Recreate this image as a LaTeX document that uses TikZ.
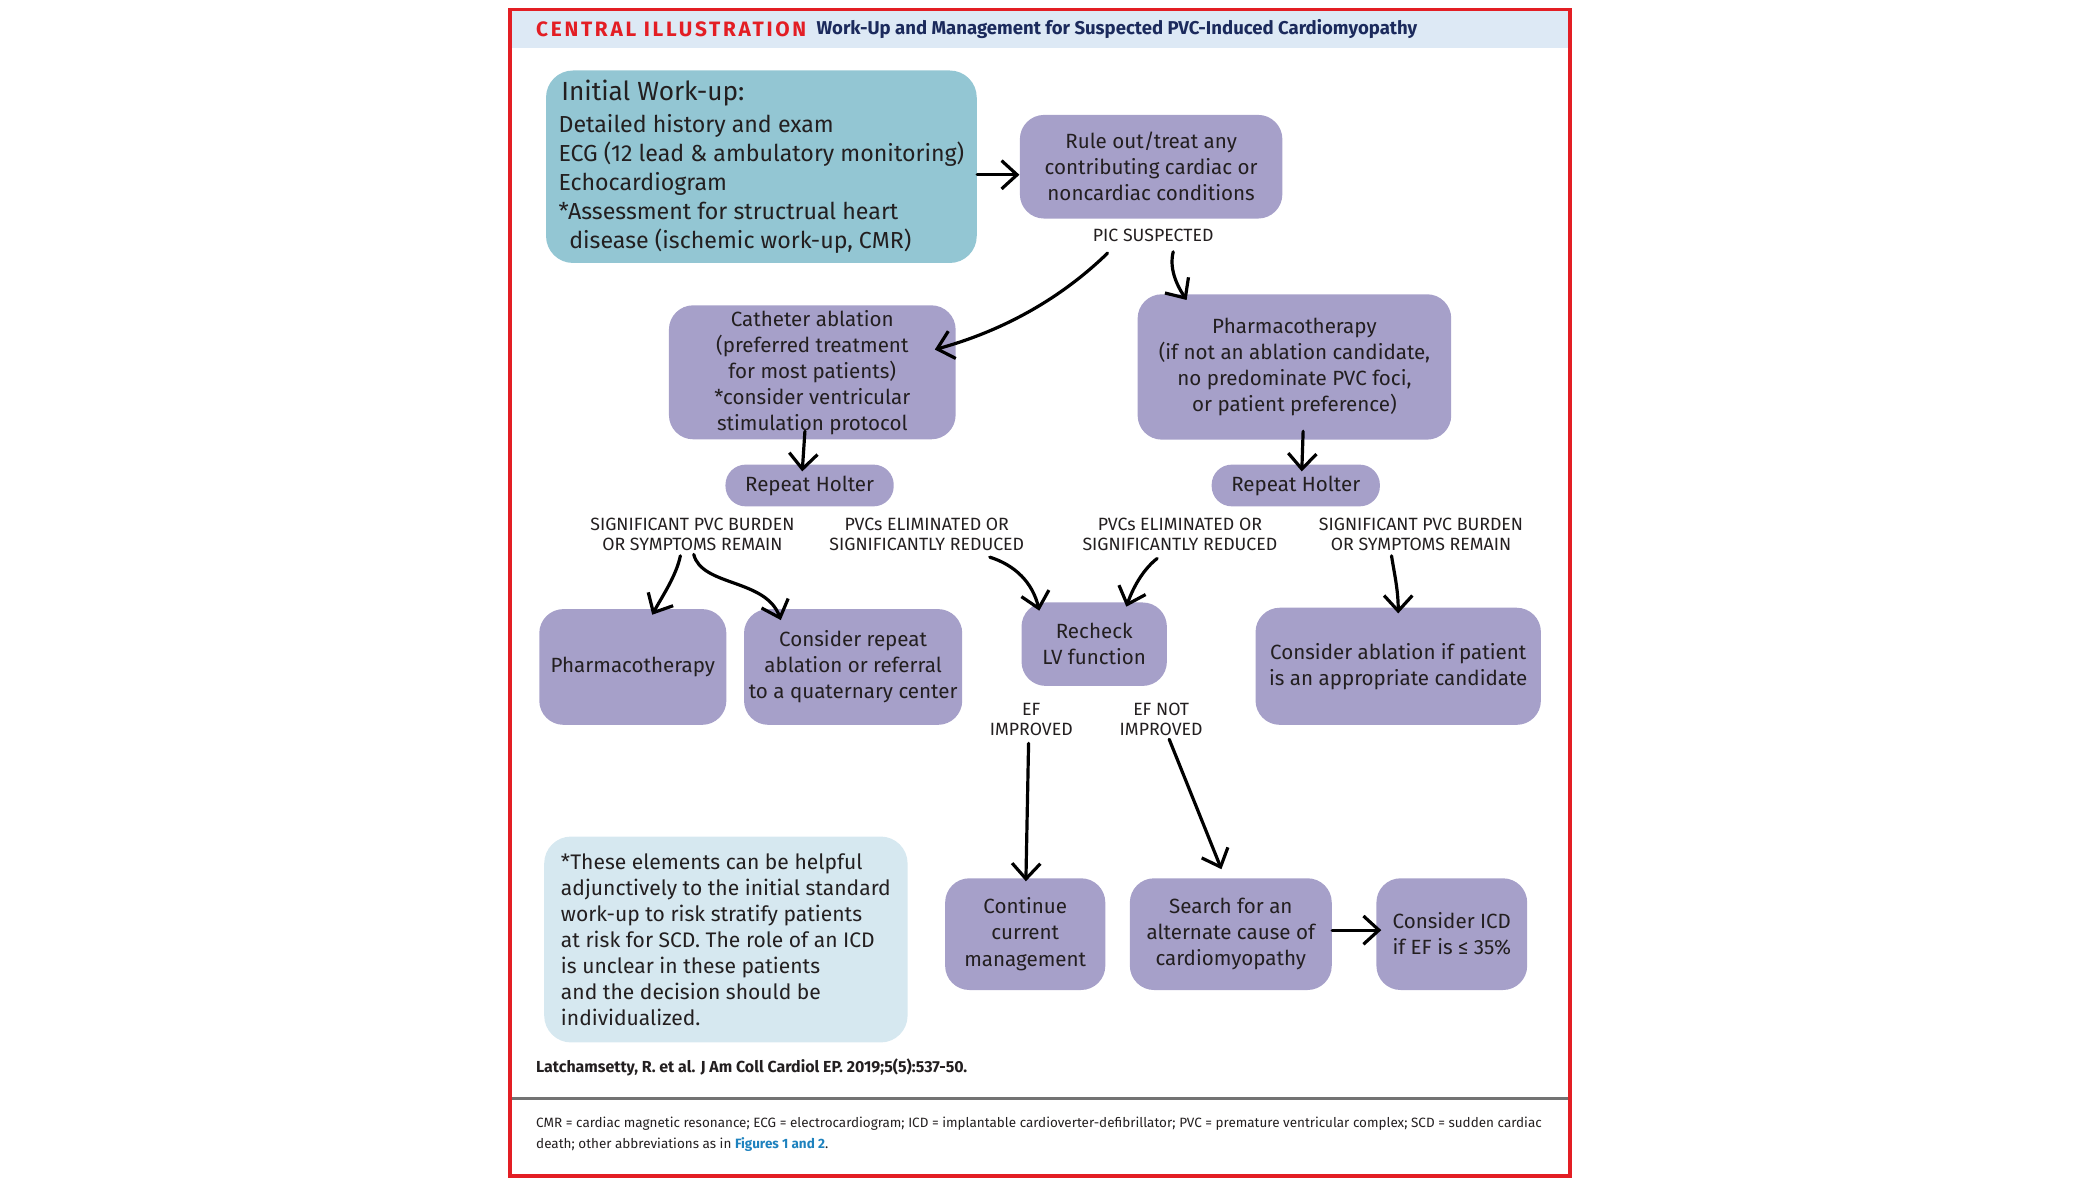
\documentclass[tikz,border=0pt]{standalone}
\usepackage{fontspec}
\setmainfont{Fira Sans}
\usepackage{tikz}
\usetikzlibrary{positioning, arrows.meta, calc}
\definecolor{boxpurple}{RGB}{166,160,201}
\definecolor{workteal}{RGB}{147,198,211}
\definecolor{notebg}{RGB}{214,232,240}
\definecolor{hdrblue}{RGB}{221,233,245}
\definecolor{ciRed}{RGB}{227,30,36}
\definecolor{navy}{RGB}{27,42,92}
\definecolor{figblue}{RGB}{30,130,190}
\definecolor{ink}{RGB}{35,31,32}
\tikzset{
  >={Straight Barb[length=2.3mm, width=4.2mm]},
  box/.style={fill=boxpurple, rounded corners=3.6mm, inner sep=2pt, align=center, text=ink, font=\fontsize{8.7}{11}\selectfont},
  pill/.style={box, rounded corners=3mm, minimum width=25mm, minimum height=6.2mm},
  lbl/.style={align=center, inner sep=1pt, text=ink, font=\fontsize{7.5}{8.6}\selectfont},
  flow/.style={->, line width=1.35pt, line cap=round},
}

\begin{document}
\begin{tikzpicture}[x=0.199mm, y=-0.199mm]
      \useasboundingbox (0,0) rectangle (1568,881.4);
      \fill[hdrblue] (381,7) rectangle (1172,36);
      \node[anchor=west, inner sep=0, text=ciRed, font=\fontsize{8.8}{10}\selectfont\bfseries] (ci) at (400,22) {\addfontfeature{LetterSpace=13}CENTRAL ILLUSTRATION};
      \node[right=1.4mm of ci, inner sep=0, text=navy, font=\fontsize{7.85}{10}\selectfont\bfseries] (title) {Work-Up and Management for Suspected PVC-Induced Cardiomyopathy};

      \node[box, fill=workteal, rounded corners=4mm, align=left, minimum width=64mm, minimum height=28.6mm, font=\fontsize{9.8}{12.3}\selectfont] (init) at (568.5,124.5) {{\fontsize{11.1}{13}\selectfont \hspace*{0.4mm}Initial Work-up:}\\[0.4mm] Detailed history and exam\\ ECG (12 lead \& ambulatory monitoring)\\ Echocardiogram\\ *Assessment for structrual heart\\ \hspace*{1.6mm}disease (ischemic work-up, CMR)};
      \node[box, minimum width=39mm, minimum height=15.4mm] (rule) at (859.5,124.5) {Rule out/treat any\\ contributing cardiac or\\ noncardiac conditions};
      \node[lbl] (pic) at (861,176) {PIC SUSPECTED};
      \node[box, minimum width=42.6mm, minimum height=19.6mm] (cath) at (606.5,278) {Catheter ablation\\ (preferred treatment\\ for most patients)\\ *consider ventricular\\ stimulation protocol};
      \node[box, minimum width=46.6mm, minimum height=21.6mm] (pharm) at (966.5,274) {Pharmacotherapy\\ (if not an ablation candidate,\\ no predominate PVC foci,\\ or patient preference)};
      \node[pill] (hol1) at (604.5,362.5) {Repeat Holter};
      \node[pill] (hol2) at (967.5,362.5) {Repeat Holter};

      \node[lbl] (s1) at (517,399) {SIGNIFICANT PVC BURDEN\\ OR SYMPTOMS REMAIN};
      \node[lbl] (e1) at (692,399) {PVCs ELIMINATED OR\\ SIGNIFICANTLY REDUCED};
      \node[lbl] (e2) at (881,399) {PVCs ELIMINATED OR\\ SIGNIFICANTLY REDUCED};
      \node[lbl] (s2) at (1061,399) {SIGNIFICANT PVC BURDEN\\ OR SYMPTOMS REMAIN};

      \node[box, minimum width=27.8mm, minimum height=17.2mm] (ph2) at (472.5,498) {Pharmacotherapy};
      \node[box, minimum width=32mm, minimum height=17.2mm] (rep) at (637,498) {Consider repeat\\ ablation or referral\\ to a quaternary center};
      \node[box, minimum width=21.6mm, minimum height=12.4mm] (lv) at (817,481) {Recheck\\ LV function};
      \node[box, minimum width=42.4mm, minimum height=17.4mm] (abl) at (1044,497.5) {Consider ablation if patient\\ is an appropriate candidate};

      \node[lbl] (efi) at (770,537) {EF\\ IMPROVED};
      \node[lbl] (efn) at (867,537) {EF NOT\\ IMPROVED};

      \node[box, minimum width=23.8mm, minimum height=16.6mm] (cont) at (765.5,697.5) {Continue\\ current\\ management};
      \node[box, minimum width=30mm, minimum height=16.6mm] (srch) at (919,697.5) {Search for an\\ alternate cause of\\ cardiomyopathy};
      \node[box, minimum width=22.4mm, minimum height=16.6mm] (icd) at (1084,697.5) {Consider ICD\\ if EF is ≤ 35\%};

      \node[box, fill=notebg, rounded corners=4mm, align=left, minimum width=54mm, minimum height=30.6mm, font=\fontsize{8.9}{11}\selectfont] (note) at (542,701.5) {*These elements can be helpful\\ adjunctively to the initial standard\\ work-up to risk stratify patients\\ at risk for SCD. The role of an ICD\\ is unclear in these patients\\ and the decision should be\\ individualized.};

      \draw[flow] ($(init.east)+(0,6)$) -- ($(rule.west)+(0,6)$);
      \draw[flow] ($(pic)+(-34,13)$) .. controls (792,223) and (749,247) .. ($(cath)+(91.5,-17)$);
      \draw[flow] ($(pic)+(15,12)$) .. controls (873,200) and (878,212) .. ($(pharm)+(-80.5,-50)$);
      \draw[flow] ($(cath)+(-5.5,44)$) -- ($(hol1)+(-5.5,-10.5)$);
      \draw[flow] ($(pharm)+(6.5,48)$) -- ($(hol2)+(4.5,-10.5)$);
      \draw[flow] ($(s1)+(-9,16)$) .. controls (505,430) and (494,446) .. ($(ph2)+(14.5,-39)$);
      \draw[flow] ($(s1)+(1,15)$) .. controls (524,438) and (572,432) .. ($(rep)+(-54,-35)$);
      \draw[flow] ($(e1)+(47,17)$) .. controls (758,422) and (771,435) .. ($(lv)+(-41,-25)$);
      \draw[flow] ($(e2)+(-17,18)$) .. controls (855,424) and (847,436) .. ($(lv)+(24,-28)$);
      \draw[flow] ($(s2)+(-22,16)$) .. controls (1041,428) and (1044,440) .. ($(abl)+(0,-39.5)$);
      \draw[flow] ($(efi)+(-2,18)$) -- ($(cont)+(0.5,-39.5)$);
      \draw[flow] ($(efn)+(6,15)$) -- ($(srch)+(-7,-48.5)$);
      \draw[flow] ($(srch.east)+(0,-3)$) -- ($(icd.west)+(4,-3)$);

      \node[anchor=west, inner sep=0, text=ink, font=\fontsize{6.75}{8}\selectfont\bfseries] (cite) at (400,797) {Latchamsetty, R. et al. J Am Coll Cardiol EP. 2019;5(5):537-50.};
      \draw[line width=0.45mm, black!55] (381,820) -- (1172,820);
      \node[anchor=west, align=left, inner sep=0, text=ink, font=\fontsize{5.7}{9}\selectfont] (abbr) at (400,847) {CMR = cardiac magnetic resonance; ECG = electrocardiogram; ICD = implantable cardioverter-defibrillator; PVC = premature ventricular complex; SCD = sudden cardiac\\ death; other abbreviations as in {\color{figblue}\bfseries Figures 1 and 2}.};
      \draw[ciRed, line width=0.55mm] (381,7) rectangle (1172,878);
    \end{tikzpicture}
\end{document}
